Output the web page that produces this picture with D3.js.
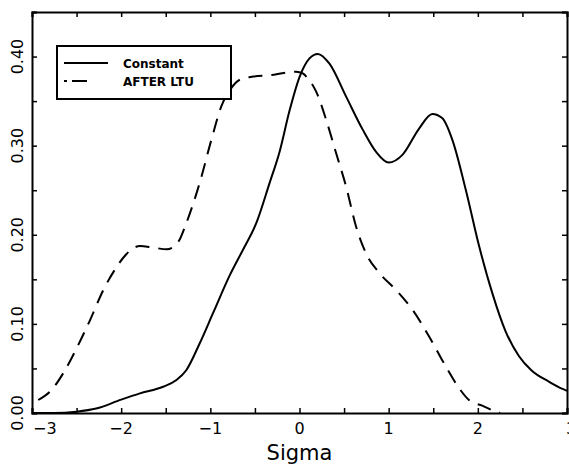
<!DOCTYPE html>
<html>
<head>
<meta charset="utf-8">
<script src="https://cdn.jsdelivr.net/npm/d3@7"></script>
<style>
  html, body { margin: 0; padding: 0; background: #fff; }
  svg { display: block; }
  text { font-family: "DejaVu Sans", sans-serif; fill: #000; }
</style>
</head>
<body>
<svg id="chart" width="569" height="465"></svg>
<script>
// ---- data ----
const sigmaConstant = [-3.0, -2.75, -2.5, -2.28, -2.0, -1.79, -1.53, -1.38, -1.27, -1.12, -0.97, -0.78, -0.635, -0.485, -0.336, -0.224, -0.11, 0.0, 0.112, 0.205, 0.336, 0.523, 0.709, 0.859, 1.0, 1.157, 1.343, 1.49, 1.60, 1.716, 1.866, 2.015, 2.164, 2.31, 2.46, 2.6, 2.8, 2.95, 3.0];
const constantValues = [0.0, 0.0, 0.0015, 0.005, 0.015, 0.022, 0.0295, 0.037, 0.048, 0.078, 0.112, 0.155, 0.183, 0.213, 0.258, 0.293, 0.34, 0.377, 0.398, 0.403, 0.392, 0.355, 0.318, 0.293, 0.281, 0.29, 0.3195, 0.3356, 0.331, 0.306, 0.25, 0.187, 0.134, 0.092, 0.064, 0.048, 0.035, 0.027, 0.025];

const sigmaAfter = [-2.93, -2.78, -2.65, -2.5, -2.35, -2.2, -2.05, -1.94, -1.79, -1.64, -1.49, -1.36, -1.27, -1.12, -0.99, -0.877, -0.78, -0.67, -0.52, -0.336, -0.149, -0.037, 0.037, 0.093, 0.187, 0.299, 0.411, 0.523, 0.635, 0.747, 0.896, 1.083, 1.269, 1.455, 1.642, 1.791, 1.90, 2.05, 2.2, 2.25];
const afterValues = [0.0146, 0.026, 0.0446, 0.0726, 0.104, 0.138, 0.164, 0.1785, 0.1874, 0.1856, 0.1837, 0.192, 0.213, 0.258, 0.306, 0.344, 0.3625, 0.374, 0.3775, 0.379, 0.382, 0.383, 0.381, 0.3756, 0.3606, 0.329, 0.2915, 0.254, 0.209, 0.179, 0.157, 0.138, 0.1156, 0.0856, 0.052, 0.0277, 0.0146, 0.0082, 0.0015, 0.0];

const xTickValues = [-3, -2, -1, 0, 1, 2, 3];
const xTickLabels = ["\u22123", "\u22122", "\u22121", "0", "1", "2", "3"];
const yTickValues = [0.0, 0.1, 0.2, 0.3, 0.4];
const yTickLabels = ["0.00", "0.10", "0.20", "0.30", "0.40"];
const legendLabels = ["Constant", "AFTER LTU"];
const xTitle = "Sigma";

// ---- layout ----
const svg = d3.select("#chart");
const mLeft = 32, mRight = 567, mTop = 12, mBottom = 413;
const x = d3.scaleLinear().domain([-3, 3]).range([mLeft, mRight]);
const y = d3.scaleLinear().domain([0, 0.45]).range([mBottom, mTop]);

const g = svg.append("g");

// curves
const line = d3.line()
  .x(d => x(d[0]))
  .y(d => y(d[1]))
  .curve(d3.curveMonotoneX);

svg.append("clipPath").attr("id", "clip")
  .append("rect").attr("x", mLeft).attr("y", mTop).attr("width", mRight - mLeft).attr("height", mBottom - mTop);

g.append("path")
  .datum(d3.zip(sigmaConstant, constantValues))
  .attr("d", line)
  .attr("clip-path", "url(#clip)")
  .attr("fill", "none").attr("stroke", "#000").attr("stroke-width", 2);

g.append("path")
  .datum(d3.zip(sigmaAfter, afterValues))
  .attr("d", line)
  .attr("clip-path", "url(#clip)")
  .attr("fill", "none").attr("stroke", "#000").attr("stroke-width", 2)
  .attr("stroke-dasharray", "14,9");

// axes (ticks inward on all four sides)
const tl = 5;
const xMinor = d3.range(-3, 3.01, 0.5);
const yMinor = d3.range(0, 0.451, 0.05);

const axB = d3.axisBottom(x).tickValues(xMinor).tickSize(-tl).tickFormat("");
const axT = d3.axisTop(x).tickValues(xMinor).tickSize(-tl).tickFormat("");
const axL = d3.axisLeft(y).tickValues(yMinor).tickSize(-tl).tickFormat("");
const axR = d3.axisRight(y).tickValues(yMinor).tickSize(-tl).tickFormat("");

function styleAxis(sel) {
  sel.selectAll("path.domain").attr("stroke", "#000").attr("stroke-width", 2);
  sel.selectAll(".tick line").attr("stroke", "#000").attr("stroke-width", 1.5);
}
g.append("g").attr("transform", `translate(0,${mBottom})`).call(axB).call(styleAxis);
g.append("g").attr("transform", `translate(0,${mTop})`).call(axT).call(styleAxis);
g.append("g").attr("transform", `translate(${mLeft},0)`).call(axL).call(styleAxis);
g.append("g").attr("transform", `translate(${mRight},0)`).call(axR).call(styleAxis);

// x tick labels
g.selectAll("text.xlab").data(xTickValues).enter().append("text")
  .attr("class", "xlab")
  .attr("x", (d, i) => i === 0 ? x(d) + 1 : (i === xTickValues.length - 1 ? x(d) - 1 : x(d)))
  .attr("y", 434)
  .attr("text-anchor", (d, i) => (i === 0 || i === xTickValues.length - 1) ? "start" : "middle")
  .attr("font-size", 16)
  .text((d, i) => xTickLabels[i]);

// y tick labels (rotated)
g.selectAll("text.ylab").data(yTickValues).enter().append("text")
  .attr("class", "ylab")
  .attr("transform", d => `translate(23,${y(d)}) rotate(-90)`)
  .attr("text-anchor", "middle")
  .attr("font-size", 16)
  .text((d, i) => yTickLabels[i]);

// x title
g.append("text")
  .attr("x", x(0)).attr("y", 460)
  .attr("text-anchor", "middle")
  .attr("font-size", 21)
  .text(xTitle);

// legend
const lg = g.append("g");
lg.append("rect")
  .attr("x", 57).attr("y", 46).attr("width", 174).attr("height", 53)
  .attr("fill", "#fff").attr("stroke", "#000").attr("stroke-width", 2);
lg.append("line").attr("x1", 64).attr("x2", 108).attr("y1", 63).attr("y2", 63)
  .attr("stroke", "#000").attr("stroke-width", 2);
lg.append("line").attr("x1", 64).attr("x2", 87).attr("y1", 81).attr("y2", 81)
  .attr("stroke", "#000").attr("stroke-width", 2).attr("stroke-dasharray", "3,5,15");
lg.selectAll("text").data(legendLabels).enter().append("text")
  .attr("x", 123).attr("y", (d, i) => 68 + i * 18)
  .attr("font-size", 12).attr("font-weight", "bold")
  .text(d => d);
</script>
</body>
</html>
